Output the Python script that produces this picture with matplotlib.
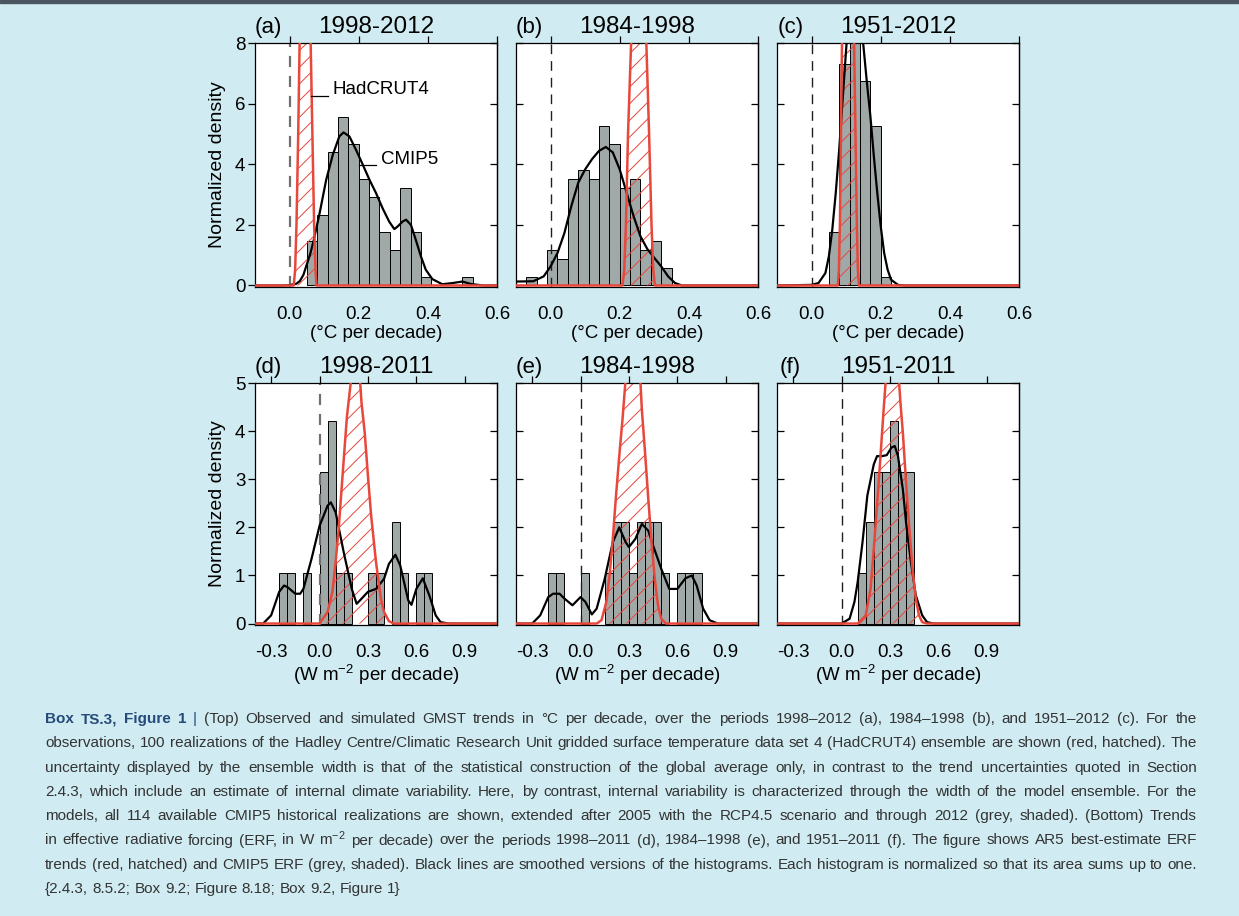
import matplotlib
matplotlib.use('Agg')
import matplotlib.pyplot as plt
from matplotlib import font_manager
from matplotlib.patches import Rectangle

# ---- colours ----
BG = '#d0ecf2'
RED = '#e8473b'
BAR = '#a0a8a8'
BLUE = '#264a7a'
TXT = '#333333'

# ---- (a) 1998-2012, degC per decade ----
a_bar_left = [0.05, 0.08, 0.11, 0.14, 0.17, 0.20, 0.23, 0.26, 0.29, 0.32, 0.35, 0.38, 0.50]
a_bar_height = [1.46, 2.34, 4.39, 5.56, 4.68, 3.51, 2.92, 1.75, 1.17, 3.22, 1.75, 0.29, 0.29]
a_kde_x = [-0.1, -0.02, 0.0, 0.02, 0.03, 0.04, 0.05, 0.06, 0.07, 0.087, 0.106, 0.125, 0.144, 0.156,
           0.173, 0.192, 0.212, 0.231, 0.25, 0.269, 0.288, 0.303, 0.313, 0.327, 0.337, 0.351, 0.365,
           0.38, 0.394, 0.413, 0.442, 0.471, 0.50, 0.524, 0.56, 0.6]
a_kde_y = [0.0, 0.0, 0.01, 0.06, 0.15, 0.35, 0.7, 1.05, 1.5, 2.39, 3.49, 4.31, 4.92, 5.05,
           4.92, 4.48, 3.98, 3.49, 3.05, 2.55, 2.11, 1.86, 1.95, 2.11, 2.17, 2.0, 1.51,
           0.96, 0.52, 0.21, 0.04, 0.08, 0.13, 0.05, 0.0, 0.0]
a_obs_x = [-0.1, 0.012, 0.016, 0.02, 0.025, 0.029, 0.035, 0.045, 0.055, 0.061, 0.066, 0.071, 0.075, 0.078, 0.6]
a_obs_y = [0.0, 0.0, 0.5, 2.0, 5.0, 8.0, 13.0, 17.0, 13.0, 8.0, 5.0, 2.0, 0.5, 0.0, 0.0]

# ---- (b) 1984-1998 ----
b_bar_left = [-0.07, -0.01, 0.02, 0.05, 0.08, 0.11, 0.14, 0.17, 0.20, 0.23, 0.26, 0.29, 0.32]
b_bar_height = [0.29, 1.17, 0.88, 3.51, 3.80, 3.51, 5.26, 4.68, 3.22, 3.51, 1.17, 1.46, 0.58]
b_kde_x = [-0.1, -0.05, -0.02, 0.0, 0.02, 0.04, 0.06, 0.08, 0.10, 0.12, 0.14, 0.16, 0.18, 0.20,
           0.22, 0.24, 0.26, 0.28, 0.30, 0.32, 0.34, 0.36, 0.38, 0.6]
b_kde_y = [0.13, 0.14, 0.3, 0.63, 1.07, 1.73, 2.62, 3.39, 3.83, 4.17, 4.44, 4.57, 4.39, 3.83,
           3.06, 2.29, 1.62, 1.20, 0.91, 0.63, 0.30, 0.08, 0.0, 0.0]
b_obs_x = [-0.1, 0.208, 0.213, 0.218, 0.224, 0.233, 0.24, 0.255, 0.27, 0.277, 0.285, 0.292, 0.297, 0.302, 0.6]
b_obs_y = [0.0, 0.0, 0.5, 2.0, 5.0, 8.0, 10.5, 12.5, 10.5, 8.0, 5.0, 2.0, 0.5, 0.0, 0.0]

# ---- (c) 1951-2012 ----
c_bar_left = [0.05, 0.08, 0.11, 0.14, 0.17, 0.20]
c_bar_height = [1.75, 7.31, 11.99, 6.73, 5.26, 0.29]
c_kde_x = [-0.1, 0.0, 0.02, 0.04, 0.05, 0.06, 0.07, 0.08, 0.09, 0.10, 0.11, 0.125, 0.14, 0.15,
           0.16, 0.17, 0.18, 0.19, 0.20, 0.21, 0.22, 0.23, 0.25, 0.27, 0.6]
c_kde_y = [0.0, 0.02, 0.08, 0.41, 0.96, 1.85, 3.06, 4.5, 6.15, 7.8, 9.2, 10.0, 9.0, 7.9,
           6.7, 5.6, 4.28, 3.06, 1.96, 1.07, 0.52, 0.19, 0.02, 0.0, 0.0]
c_obs_x = [-0.1, 0.076, 0.079, 0.082, 0.085, 0.088, 0.095, 0.105, 0.115, 0.123, 0.127, 0.131, 0.134, 0.137, 0.6]
c_obs_y = [0.0, 0.0, 0.5, 2.0, 5.0, 8.0, 14.0, 17.0, 14.0, 8.0, 5.0, 2.0, 0.5, 0.0, 0.0]

# ---- (d) 1998-2011, W m-2 per decade ----
d_bar_left = [-0.25, -0.20, -0.10, 0.0, 0.05, 0.10, 0.15, 0.30, 0.35, 0.45, 0.50, 0.60, 0.65]
d_bar_height = [1.05, 1.05, 1.05, 3.16, 4.21, 1.05, 1.05, 1.05, 1.05, 2.11, 1.05, 1.05, 1.05]
d_kde_x = [-0.4, -0.35, -0.3, -0.25, -0.22, -0.2, -0.15, -0.12, -0.1, -0.05, 0.0, 0.05, 0.07,
           0.1, 0.15, 0.2, 0.23, 0.25, 0.3, 0.35, 0.4, 0.43, 0.47, 0.5, 0.55, 0.57, 0.6, 0.64,
           0.68, 0.72, 0.75, 0.8, 1.1]
d_kde_y = [0.0, 0.0, 0.17, 0.66, 0.79, 0.76, 0.62, 0.62, 0.72, 1.34, 2.03, 2.45, 2.52,
           2.31, 1.48, 0.72, 0.41, 0.48, 0.66, 0.72, 0.93, 1.24, 1.43, 1.21, 0.48, 0.39, 0.72, 0.94,
           0.59, 0.17, 0.03, 0.0, 0.0]
d_obs_x = [-0.4, 0.0, 0.05, 0.08, 0.1, 0.12, 0.15, 0.17, 0.2, 0.225, 0.25, 0.26, 0.28, 0.3,
           0.32, 0.35, 0.38, 0.4, 0.43, 0.46, 1.1]
d_obs_y = [0.0, 0.0, 0.24, 0.66, 1.28, 2.03, 3.41, 4.31, 5.2, 5.35, 5.1, 4.6, 3.97, 3.07,
           2.24, 1.28, 0.52, 0.24, 0.05, 0.0, 0.0]

# ---- (e) 1984-1998 ----
e_bar_left = [-0.20, -0.15, 0.0, 0.15, 0.20, 0.25, 0.30, 0.35, 0.40, 0.45, 0.50, 0.60, 0.65, 0.70]
e_bar_height = [1.05, 1.05, 1.05, 1.05, 2.11, 2.11, 1.05, 2.11, 2.11, 2.11, 1.05, 1.05, 1.05, 1.05]
e_kde_x = [-0.4, -0.3, -0.25, -0.2, -0.17, -0.13, -0.1, -0.05, 0.0, 0.03, 0.07, 0.1, 0.15, 0.2,
           0.24, 0.28, 0.3, 0.34, 0.38, 0.42, 0.45, 0.5, 0.55, 0.6, 0.65, 0.69, 0.72, 0.76, 0.8,
           0.85, 1.1]
e_kde_y = [0.0, 0.0, 0.17, 0.55, 0.62, 0.62, 0.52, 0.38, 0.55, 0.45, 0.19, 0.31, 0.93, 1.69,
           2.0, 1.69, 1.59, 1.76, 2.07, 1.93, 1.62, 1.14, 0.72, 0.72, 0.94, 1.0, 0.79, 0.31, 0.07,
           0.0, 0.0]
e_obs_x = [-0.4, 0.1, 0.13, 0.16, 0.18, 0.2, 0.22, 0.24, 0.26, 0.28, 0.30, 0.325, 0.35, 0.37,
           0.38, 0.40, 0.42, 0.44, 0.46, 0.48, 0.50, 0.53, 1.1]
e_obs_y = [0.0, 0.0, 0.07, 0.45, 1.0, 1.76, 2.66, 3.48, 4.24, 5.1, 5.9, 6.2, 5.8, 5.1,
           4.45, 3.55, 2.59, 1.69, 0.93, 0.38, 0.10, 0.0, 0.0]

# ---- (f) 1951-2011 ----
f_bar_left = [0.10, 0.15, 0.20, 0.25, 0.30, 0.35, 0.40]
f_bar_height = [1.05, 2.11, 3.16, 3.16, 4.21, 3.16, 3.16]
f_kde_x = [-0.4, 0.0, 0.05, 0.08, 0.1, 0.13, 0.16, 0.2, 0.22, 0.25, 0.28, 0.31, 0.33, 0.35,
           0.38, 0.40, 0.43, 0.46, 0.50, 0.53, 0.57, 1.1]
f_kde_y = [0.0, 0.0, 0.10, 0.45, 0.86, 1.69, 2.66, 3.31, 3.48, 3.48, 3.50, 3.66, 3.69, 3.48,
           2.79, 2.10, 1.28, 0.59, 0.17, 0.03, 0.0, 0.0]
f_obs_x = [-0.4, 0.1, 0.15, 0.18, 0.2, 0.22, 0.24, 0.26, 0.275, 0.30, 0.315, 0.33, 0.355, 0.365,
           0.38, 0.40, 0.42, 0.44, 0.46, 0.48, 0.50, 0.53, 1.1]
f_obs_y = [0.0, 0.0, 0.17, 0.72, 1.55, 2.45, 3.41, 4.4, 5.1, 6.0, 6.3, 6.0, 5.1, 4.6,
           3.97, 2.93, 1.97, 1.14, 0.52, 0.17, 0.03, 0.0, 0.0]

letters = ['(a)', '(b)', '(c)', '(d)', '(e)', '(f)']
titles = ['1998-2012', '1984-1998', '1951-2012', '1998-2011', '1984-1998', '1951-2011']
top_xticks = [0.0, 0.2, 0.4, 0.6]
bot_xticks = [-0.3, 0.0, 0.3, 0.6, 0.9]
top_yticks = [0, 2, 4, 6, 8]
bot_yticks = [0, 1, 2, 3, 4, 5]

caption_head = ['Box', 'TS.3,', 'Figure', '1']
caption_lines = [
    '(Top) Observed and simulated GMST trends in \u00b0C per decade, over the periods 1998\u20132012 (a), 1984\u20131998 (b), and 1951\u20132012 (c). For the',
    'observations, 100 realizations of the Hadley Centre/Climatic Research Unit gridded surface temperature data set 4 (HadCRUT4) ensemble are shown (red, hatched). The',
    'uncertainty displayed by the ensemble width is that of the statistical construction of the global average only, in contrast to the trend uncertainties quoted in Section',
    '2.4.3, which include an estimate of internal climate variability. Here, by contrast, internal variability is characterized through the width of the model ensemble. For the',
    'models, all 114 available CMIP5 historical realizations are shown, extended after 2005 with the RCP4.5 scenario and through 2012 (grey, shaded). (Bottom) Trends',
    'in effective radiative forcing (ERF, in W m$^{-2}$ per decade) over the periods 1998\u20132011 (d), 1984\u20131998 (e), and 1951\u20132011 (f). The figure shows AR5 best-estimate ERF',
    'trends (red, hatched) and CMIP5 ERF (grey, shaded). Black lines are smoothed versions of the histograms. Each histogram is normalized so that its area sums up to one.',
    '{2.4.3, 8.5.2; Box 9.2; Figure 8.18; Box 9.2, Figure 1}',
]

plt.rcParams['font.family'] = ['Liberation Sans', 'DejaVu Sans']
plt.rcParams['mathtext.fontset'] = 'custom'
plt.rcParams['mathtext.rm'] = 'Liberation Sans'
plt.rcParams['mathtext.it'] = 'Liberation Sans:italic'
plt.rcParams['mathtext.bf'] = 'Liberation Sans:bold'
plt.rcParams['hatch.linewidth'] = 0.7

W, H = 1239, 916
fig = plt.figure(figsize=(W / 100, H / 100), dpi=100, facecolor=BG)
fig.patches.append(Rectangle((0, 1 - 2.5 / H), 1, 2.5 / H, transform=fig.transFigure,
                             color='#4a5560', zorder=5))


def add_axes_px(left, top, width, height):
    return fig.add_axes([left / W, 1 - (top + height) / H, width / W, height / H])


def draw_panel(ax, bar_left, bar_height, bar_w, kde_x, kde_y, obs_x, obs_y,
               xlim, ylim, xticks, yticks, letter, title, xlabel, first):
    ax.set_facecolor('white')
    ax.bar(bar_left, bar_height, width=bar_w, align='edge', color=BAR,
           edgecolor='black', linewidth=0.7, zorder=1)
    if first:
        ax.axvline(0, color='#707070', lw=1.6, ls=(0, (5, 4)), zorder=1.5)
    else:
        ax.axvline(0, color='#202020', lw=1.0, ls=(0, (7, 5)), zorder=1.5)
    ax.fill_between(obs_x, obs_y, 0, facecolor='none', edgecolor=RED, hatch='//',
                    linewidth=0, zorder=2)
    ax.plot(kde_x, kde_y, color='black', lw=1.6, zorder=3)
    ax.plot(obs_x, obs_y, color=RED, lw=1.8, zorder=4)
    ax.set_xlim(xlim)
    ax.set_ylim(ylim)
    ax.set_xticks(xticks)
    ax.set_xticklabels(['%.1f' % v for v in xticks])
    ax.set_yticks(yticks)
    for s in ax.spines.values():
        s.set_linewidth(0.9)
    ax.tick_params(axis='x', bottom=False, top=True, direction='out', length=5,
                   width=0.9, labelsize=13.5, pad=9)
    if first:
        ax.tick_params(axis='y', left=True, right=False, direction='out', length=5,
                       width=0.9, labelsize=13.5, pad=2)
        ax.set_ylabel('Normalized density', fontsize=14, labelpad=6)
    else:
        ax.tick_params(axis='y', left=True, right=False, direction='in', length=5,
                       width=0.9, labelleft=False)
    sec = ax.secondary_yaxis('right')
    sec.set_yticks(yticks)
    sec.tick_params(direction='in', length=5, width=0.9, labelright=False)
    sec.spines['right'].set_linewidth(0.9)
    ax.set_xlabel(xlabel, fontsize=13.5, labelpad=1)
    ax.text(0.056, 1.065, letter, transform=ax.transAxes, ha='center', va='center', fontsize=16)
    ax.text(0.5, 1.065, title, transform=ax.transAxes, ha='center', va='center', fontsize=17.5)


lefts = [255, 516, 777]
top_label = '(\u00b0C per decade)'
bot_label = '(W m$^{-2}$ per decade)'

ax_a = add_axes_px(lefts[0], 43, 242, 244)
draw_panel(ax_a, a_bar_left, a_bar_height, 0.03, a_kde_x, a_kde_y, a_obs_x, a_obs_y,
           (-0.1, 0.6), (-0.05, 8), top_xticks, top_yticks, letters[0], titles[0], top_label, True)
ax_b = add_axes_px(lefts[1], 43, 242, 244)
draw_panel(ax_b, b_bar_left, b_bar_height, 0.03, b_kde_x, b_kde_y, b_obs_x, b_obs_y,
           (-0.1, 0.6), (-0.05, 8), top_xticks, top_yticks, letters[1], titles[1], top_label, False)
ax_c = add_axes_px(lefts[2], 43, 242, 244)
draw_panel(ax_c, c_bar_left, c_bar_height, 0.03, c_kde_x, c_kde_y, c_obs_x, c_obs_y,
           (-0.1, 0.6), (-0.05, 8), top_xticks, top_yticks, letters[2], titles[2], top_label, False)
ax_d = add_axes_px(lefts[0], 383, 242, 242)
draw_panel(ax_d, d_bar_left, d_bar_height, 0.05, d_kde_x, d_kde_y, d_obs_x, d_obs_y,
           (-0.4, 1.1), (-0.03, 5), bot_xticks, bot_yticks, letters[3], titles[3], bot_label, True)
ax_e = add_axes_px(lefts[1], 383, 242, 242)
draw_panel(ax_e, e_bar_left, e_bar_height, 0.05, e_kde_x, e_kde_y, e_obs_x, e_obs_y,
           (-0.4, 1.1), (-0.03, 5), bot_xticks, bot_yticks, letters[4], titles[4], bot_label, False)
ax_f = add_axes_px(lefts[2], 383, 242, 242)
draw_panel(ax_f, f_bar_left, f_bar_height, 0.05, f_kde_x, f_kde_y, f_obs_x, f_obs_y,
           (-0.4, 1.1), (-0.03, 5), bot_xticks, bot_yticks, letters[5], titles[5], bot_label, False)

# labels in panel (a)
ax_a.plot([0.063, 0.11], [6.26, 6.26], color='black', lw=0.9, zorder=5)
ax_a.text(0.125, 6.45, 'HadCRUT4', fontsize=13.5, va='center', ha='left', zorder=5)
ax_a.plot([0.2, 0.25], [3.98, 3.98], color='black', lw=0.9, zorder=5)
ax_a.text(0.264, 4.15, 'CMIP5', fontsize=13.5, va='center', ha='left', zorder=5)

# ---- caption, justified word by word ----
names = {f.name for f in font_manager.fontManager.ttflist}
cap_font = 'Liberation Sans Narrow' if 'Liberation Sans Narrow' in names else 'Liberation Sans'
renderer = fig.canvas.get_renderer()


def text_width(s, size, weight='normal'):
    t = fig.text(0, 0, s, fontsize=size, family=[cap_font, 'DejaVu Sans'], fontweight=weight)
    w = t.get_window_extent(renderer).width
    t.remove()
    return w


x0, x1 = 45, 1197
tokens = []
for i, line in enumerate(caption_lines):
    row = []
    if i == 0:
        row += [(w, 'bold', BLUE) for w in caption_head] + [('|', 'normal', BLUE)]
    row += [(w, 'normal', TXT) for w in line.split(' ')]
    tokens.append(row)

size = 12.5
space = text_width('a a', size) - text_width('aa', size)
widest = max(sum(text_width(w, size, wt) for w, wt, c in row) + space * (len(row) - 1)
             for row in tokens)
if widest > (x1 - x0):
    size = size * (x1 - x0) / widest

for i, row in enumerate(tokens):
    widths = [text_width(w, size, wt) for w, wt, c in row]
    if i < len(tokens) - 1:
        gap = ((x1 - x0) - sum(widths)) / (len(row) - 1)
    else:
        gap = text_width('a a', size) - text_width('aa', size)
    x = x0
    y = 723 + 24.3 * i
    for (w, wt, c), wd in zip(row, widths):
        fig.text(x / W, 1 - y / H, w, fontsize=size, fontweight=wt, color=c,
                 family=[cap_font, 'DejaVu Sans'], va='baseline', ha='left')
        x += wd + gap

fig.savefig('out.png', dpi=100, facecolor=BG)
